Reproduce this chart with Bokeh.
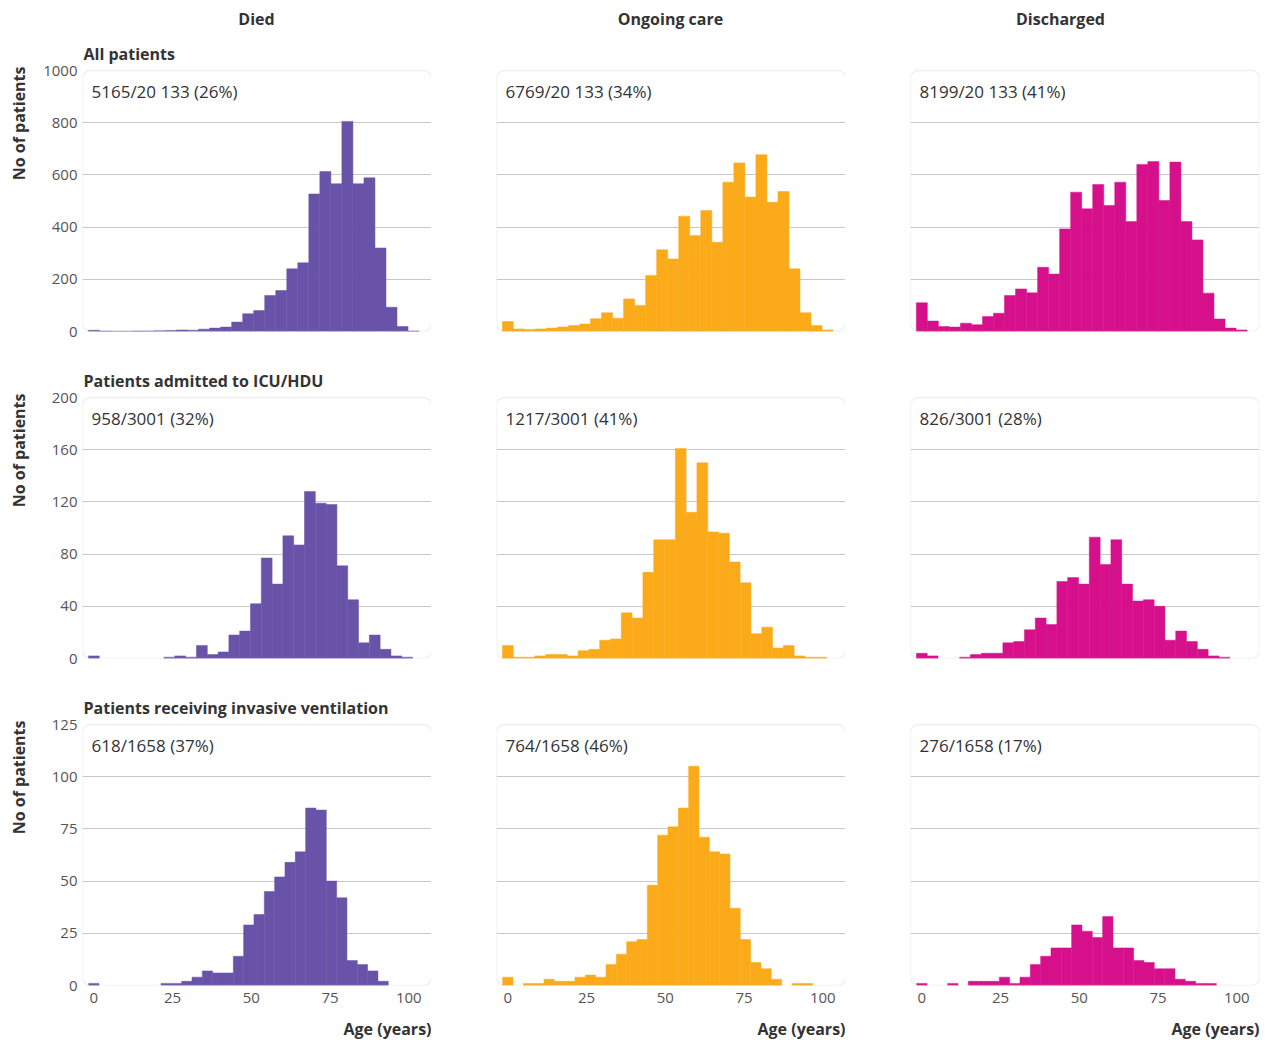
import numpy as np
from math import pi
from bokeh.plotting import figure
from bokeh.models import Range1d, FixedTicker, Grid, Label, BoxAnnotation
from bokeh.layouts import gridplot
from bokeh.embed import file_html
from bokeh.resources import INLINE

# ---------------- data ----------------
OUTCOMES = ["Died", "Ongoing care", "Discharged"]
GROUPS = ["All patients", "Patients admitted to ICU/HDU",
          "Patients receiving invasive ventilation"]
COLORS = ["#6953A8", "#FBAA19", "#D6108A"]

# histogram bin width (years) per row; bin k is centred at k * width
BIN_WIDTHS = [3.5, 3.43, 3.28]

Y_MAX = [1000, 200, 125]
Y_TICKS = [[0, 200, 400, 600, 800, 1000],
           [0, 40, 80, 120, 160, 200],
           [0, 25, 50, 75, 100, 125]]
X_TICKS = [0, 25, 50, 75, 100]

ANNOTATIONS = [
    ["5165/20 133 (26%)", "6769/20 133 (34%)", "8199/20 133 (41%)"],
    ["958/3001 (32%)", "1217/3001 (41%)", "826/3001 (28%)"],
    ["618/1658 (37%)", "764/1658 (46%)", "276/1658 (17%)"],
]

# counts per age bin (30 bins)
DIED_ALL = [5, 2, 1, 1, 2, 2, 3, 4, 6, 5, 9, 13, 17, 36, 68, 80, 138, 157, 240, 263,
            527, 613, 566, 805, 566, 589, 320, 93, 19, 2]
ONGOING_ALL = [38, 10, 8, 10, 13, 17, 23, 29, 49, 72, 51, 125, 100, 215, 313, 278, 442, 368,
               464, 342, 572, 646, 515, 677, 495, 536, 240, 72, 23, 6]
DISCHARGED_ALL = [110, 40, 19, 17, 32, 26, 57, 70, 138, 163, 148, 246, 220, 393, 534, 470, 563,
                  483, 572, 421, 640, 651, 502, 649, 421, 351, 147, 48, 13, 6]

DIED_ICU = [2, 0, 0, 0, 0, 0, 0, 1, 2, 1, 10, 3, 5, 18, 21, 42, 77, 57, 94, 87,
            128, 119, 118, 71, 45, 12, 18, 7, 2, 1]
ONGOING_ICU = [10, 1, 1, 2, 3, 3, 2, 6, 7, 14, 15, 35, 31, 66, 91, 91, 161, 112, 150, 97,
               96, 74, 58, 19, 24, 8, 10, 2, 1, 1]
DISCHARGED_ICU = [4, 2, 0, 0, 1, 3, 4, 4, 12, 13, 22, 31, 26, 59, 62, 57, 93, 72, 91, 57,
                  44, 45, 40, 14, 21, 13, 7, 2, 1, 0]

DIED_VENT = [1, 0, 0, 0, 0, 0, 0, 1, 1, 2, 4, 7, 6, 6, 14, 29, 34, 45, 52, 59,
             64, 85, 84, 50, 42, 12, 10, 7, 2, 0]
ONGOING_VENT = [4, 0, 1, 1, 3, 2, 2, 4, 5, 4, 10, 15, 21, 22, 48, 72, 76, 85, 105, 71,
                64, 63, 37, 22, 11, 8, 3, 0, 1, 1]
DISCHARGED_VENT = [1, 0, 0, 1, 0, 2, 2, 2, 4, 1, 4, 10, 14, 18, 18, 29, 26, 23, 33, 18,
                   18, 12, 11, 8, 8, 3, 2, 1, 1, 0]

COUNTS = [
    [DIED_ALL, ONGOING_ALL, DISCHARGED_ALL],
    [DIED_ICU, ONGOING_ICU, DISCHARGED_ICU],
    [DIED_VENT, ONGOING_VENT, DISCHARGED_VENT],
]

# ---------------- layout ----------------
FRAME_W = 349
BOX_H = 261                     # height of the rounded panel box
FRAME_H = [327, 316, 316]       # frame = box + room above it for the titles
X_RANGE = (-3.6, 107.2)
YLAB_W = 34                     # column holding the rotated y label
LEFT_B = [48, 65, 65]
RIGHT_B = [0, 0, 8]
TOP_B = [4, 0, 0]
BOTTOM_B = [11, 11, 28]
AGE_H = 27                      # strip under the last row
FONT = "Open Sans"
DARK = "#333333"
GREY = "#555555"
LINE = "#c8c8c8"

COL_W = [LEFT_B[c] + FRAME_W + RIGHT_B[c] for c in range(3)]
COL_TITLE_X = [174, 174, 150]   # centre of each column title, from the box's left edge


def blank(p):
    p.outline_line_color = None
    p.background_fill_color = "white"
    p.border_fill_color = "white"
    p.center = [g for g in p.center if not isinstance(g, Grid)]
    return p


def text_fig(w, h, flip=True):
    # a plain canvas whose data units are pixels
    yr = Range1d(h, 0) if flip else Range1d(0, h)
    f = figure(frame_width=w, frame_height=h, x_range=Range1d(0, w), y_range=yr,
               output_backend="svg", toolbar_location=None, title=None,
               x_axis_location=None, y_axis_location=None,
               min_border_left=0, min_border_right=0, min_border_top=0, min_border_bottom=0)
    return blank(f)


def bold_label(x, y, text, align, angle=0.0, units="data"):
    return Label(x=x, y=y, x_units=units, y_units=units, text=text, angle=angle,
                 text_font=FONT, text_font_size="16px", text_font_style="bold",
                 text_color=DARK, text_align=align, text_baseline="middle")


def panel(r, c):
    y_top = Y_MAX[r] * FRAME_H[r] / BOX_H
    p = figure(
        frame_width=FRAME_W, frame_height=FRAME_H[r],
        x_range=Range1d(*X_RANGE), y_range=Range1d(0, y_top),
        output_backend="svg", toolbar_location=None, title=None,
        x_axis_location="below" if r == 2 else None,
        y_axis_location="left" if c == 0 else None,
        min_border_left=LEFT_B[c], min_border_right=RIGHT_B[c],
        min_border_top=TOP_B[r], min_border_bottom=BOTTOM_B[r],
    )
    blank(p)
    p.add_layout(Grid(dimension=1, ticker=FixedTicker(ticks=Y_TICKS[r][1:-1]),
                      grid_line_color=LINE, grid_line_width=1), "center")
    if c == 0:
        ax = p.yaxis[0]
        ax.ticker = FixedTicker(ticks=Y_TICKS[r])
        ax.axis_line_color = None
        ax.major_tick_line_color = None
        ax.minor_tick_line_color = None
        ax.major_tick_out = 0
        ax.major_tick_in = 0
        ax.major_label_standoff = 5
        ax.major_label_text_font = FONT
        ax.major_label_text_font_size = "15px"
        ax.major_label_text_color = GREY
    if r == 2:
        ax = p.xaxis[0]
        ax.ticker = FixedTicker(ticks=X_TICKS)
        ax.axis_line_color = None
        ax.major_tick_line_color = None
        ax.minor_tick_line_color = None
        ax.major_tick_out = 0
        ax.major_tick_in = 0
        ax.major_label_standoff = 7
        ax.major_label_text_font = FONT
        ax.major_label_text_font_size = "15px"
        ax.major_label_text_color = GREY

    counts = np.array(COUNTS[r][c], dtype=float)
    w = BIN_WIDTHS[r]
    centers = np.arange(len(counts)) * w
    keep = counts > 0
    p.quad(left=centers[keep] - w / 2, right=centers[keep] + w / 2,
           bottom=0, top=counts[keep],
           fill_color=COLORS[c], line_color=COLORS[c], line_width=0.5)

    p.add_layout(BoxAnnotation(left=X_RANGE[0], right=X_RANGE[1], bottom=0, top=Y_MAX[r],
                               fill_color=None, line_color=LINE, line_width=1.3,
                               border_radius=8))
    p.add_layout(Label(x=9, y=BOX_H - 21, x_units="screen", y_units="screen",
                       text=ANNOTATIONS[r][c], text_font=FONT, text_font_size="17px",
                       text_color=DARK, text_align="left", text_baseline="middle"))
    if r == 0:
        p.add_layout(bold_label(COL_TITLE_X[c], BOX_H + 52, OUTCOMES[c], "center",
                                units="screen"))
    if c == 0:
        p.add_layout(bold_label(1, BOX_H + 17, GROUPS[r], "left", units="screen"))
    return p


rows = []
for r in range(3):
    ylab = text_fig(YLAB_W, FRAME_H[r], flip=False)
    ylab.add_layout(bold_label(18, BOX_H + 4, "No of patients", "right", angle=pi / 2))
    rows.append([ylab] + [panel(r, c) for c in range(3)])

age_row = [None]
for c in range(3):
    s = text_fig(COL_W[c], AGE_H)
    s.add_layout(bold_label(FRAME_W, 15, "Age (years)", "right"))
    age_row.append(s)
rows.append(age_row)

layout = gridplot(rows, toolbar_location=None)

open("out.html", "w").write(file_html(layout, INLINE))
